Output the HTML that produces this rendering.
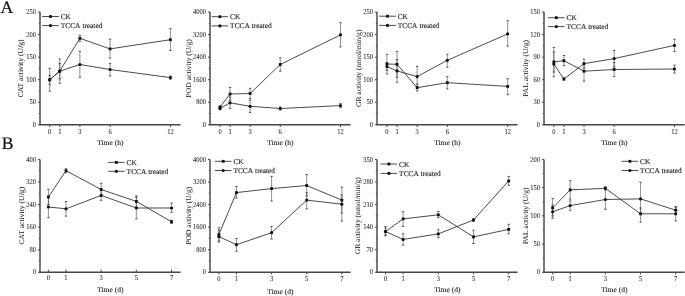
<!DOCTYPE html>
<html><head><meta charset="utf-8"><style>
html,body{margin:0;padding:0;background:#fff;}
body{width:685px;height:296px;overflow:hidden;}
svg{display:block;text-rendering:geometricPrecision;filter:grayscale(1);}
text{stroke:#222;stroke-width:0.2px;}
.tk{stroke-width:0.06px;}
.lg text{stroke-width:0.14px;}
.yl{stroke-width:0.04px;}
.xl{stroke-width:0.12px;}
</style></head><body>
<svg width="685" height="296" viewBox="0 0 685 296"><rect width="685" height="296" fill="#fff"/><g font-family='"Liberation Serif", serif' fill="#111"><text x="0.60" y="12.60" font-size="17.6" text-anchor="start">A</text><text x="1.80" y="148.60" font-size="17.6" text-anchor="start">B</text></g><g font-family='"Liberation Serif", serif' fill="#1e1e1e"><path d="M40.0 12.05V124.8H180.6" fill="none" stroke="#474747" stroke-width="1.45"/><path d="M38.0 124.80H40.0M38.8 113.52H40.0M38.0 102.25H40.0M38.8 90.97H40.0M38.0 79.70H40.0M38.8 68.42H40.0M38.0 57.15H40.0M38.8 45.87H40.0M38.0 34.60H40.0M38.8 23.32H40.0M38.0 12.05H40.0M49.70 124.8V127.0M59.76 124.8V127.0M79.88 124.8V127.0M110.06 124.8V127.0M170.42 124.8V127.0" stroke="#474747" stroke-width="1"/><text x="36.00" y="126.90" font-size="7.5" text-anchor="end" textLength="3.25" lengthAdjust="spacingAndGlyphs" class="tk">0</text><text x="36.00" y="104.35" font-size="7.5" text-anchor="end" textLength="6.50" lengthAdjust="spacingAndGlyphs" class="tk">50</text><text x="36.00" y="81.80" font-size="7.5" text-anchor="end" textLength="9.75" lengthAdjust="spacingAndGlyphs" class="tk">100</text><text x="36.00" y="59.25" font-size="7.5" text-anchor="end" textLength="9.75" lengthAdjust="spacingAndGlyphs" class="tk">150</text><text x="36.00" y="36.70" font-size="7.5" text-anchor="end" textLength="9.75" lengthAdjust="spacingAndGlyphs" class="tk">200</text><text x="36.00" y="14.15" font-size="7.5" text-anchor="end" textLength="9.75" lengthAdjust="spacingAndGlyphs" class="tk">250</text><text x="49.70" y="134.00" font-size="7.5" text-anchor="middle" textLength="3.25" lengthAdjust="spacingAndGlyphs" class="tk">0</text><text x="59.76" y="134.00" font-size="7.5" text-anchor="middle" textLength="3.25" lengthAdjust="spacingAndGlyphs" class="tk">1</text><text x="79.88" y="134.00" font-size="7.5" text-anchor="middle" textLength="3.25" lengthAdjust="spacingAndGlyphs" class="tk">3</text><text x="110.06" y="134.00" font-size="7.5" text-anchor="middle" textLength="3.25" lengthAdjust="spacingAndGlyphs" class="tk">6</text><text x="170.42" y="134.00" font-size="7.5" text-anchor="middle" textLength="6.50" lengthAdjust="spacingAndGlyphs" class="tk">12</text><text x="110.30" y="144.90" font-size="7.3" text-anchor="middle" textLength="26.20" lengthAdjust="spacingAndGlyphs" class="xl">Time (h)</text><text transform="translate(23.40 68.33) rotate(-90)" x="0" y="0" font-size="7.3" text-anchor="middle" textLength="58.00" lengthAdjust="spacingAndGlyphs" class="yl">CAT activity (U/g)</text></g><path d="M49.70 68.40V91.20M59.76 59.00V83.30M79.88 35.20V41.30M110.06 39.20V58.10M170.42 28.60V50.50M49.70 75.30V84.70M59.76 63.60V78.90M79.88 51.30V77.30M110.06 63.60V75.90M170.42 76.00V79.20" stroke="#4a4a4a" stroke-width="0.6" fill="none"/><path d="M48.50 68.40H50.90M48.50 91.20H50.90M58.56 59.00H60.96M58.56 83.30H60.96M78.68 35.20H81.08M78.68 41.30H81.08M108.86 39.20H111.26M108.86 58.10H111.26M169.22 28.60H171.62M169.22 50.50H171.62M48.50 75.30H50.90M48.50 84.70H50.90M58.56 63.60H60.96M58.56 78.90H60.96M78.68 51.30H81.08M78.68 77.30H81.08M108.86 63.60H111.26M108.86 75.90H111.26M169.22 76.00H171.62M169.22 79.20H171.62" stroke="#333" stroke-width="0.8" fill="none"/><polyline points="49.70,79.80 59.76,71.10 79.88,38.30 110.06,48.90 170.42,39.70" fill="none" stroke="#383838" stroke-width="0.9"/><polyline points="49.70,79.80 59.76,71.10 79.88,64.50 110.06,69.50 170.42,77.60" fill="none" stroke="#383838" stroke-width="0.9"/><g fill="#111"><rect x="48.30" y="78.40" width="2.8" height="2.8"/><rect x="58.36" y="69.70" width="2.8" height="2.8"/><rect x="78.48" y="36.90" width="2.8" height="2.8"/><rect x="108.66" y="47.50" width="2.8" height="2.8"/><rect x="169.02" y="38.30" width="2.8" height="2.8"/><circle cx="49.70" cy="79.80" r="1.6"/><circle cx="59.76" cy="71.10" r="1.6"/><circle cx="79.88" cy="64.50" r="1.6"/><circle cx="110.06" cy="69.50" r="1.6"/><circle cx="170.42" cy="77.60" r="1.6"/></g><path d="M42.20 16.50H58.80" stroke="#383838" stroke-width="0.9"/><rect x="49.10" y="15.10" width="2.8" height="2.8" fill="#111"/><g font-family='"Liberation Serif", serif' fill="#1e1e1e" class="lg"><text x="60.70" y="19.00" font-size="7.3" text-anchor="start" textLength="10.20" lengthAdjust="spacingAndGlyphs">CK</text></g><path d="M42.20 25.60H58.80" stroke="#383838" stroke-width="0.9"/><circle cx="50.50" cy="25.60" r="1.6" fill="#111"/><g font-family='"Liberation Serif", serif' fill="#1e1e1e" class="lg"><text x="60.70" y="28.10" font-size="7.3" text-anchor="start" textLength="19.80" lengthAdjust="spacingAndGlyphs">TCCA</text><text x="82.40" y="28.10" font-size="7.3" text-anchor="start" textLength="19.90" lengthAdjust="spacingAndGlyphs">treated</text></g><g font-family='"Liberation Serif", serif' fill="#1e1e1e"><path d="M210.0 12.05V124.8H350.6" fill="none" stroke="#474747" stroke-width="1.45"/><path d="M208.0 124.80H210.0M208.8 113.52H210.0M208.0 102.25H210.0M208.8 90.97H210.0M208.0 79.70H210.0M208.8 68.42H210.0M208.0 57.15H210.0M208.8 45.87H210.0M208.0 34.60H210.0M208.8 23.32H210.0M208.0 12.05H210.0M220.00 124.8V127.0M230.04 124.8V127.0M250.12 124.8V127.0M280.24 124.8V127.0M340.48 124.8V127.0" stroke="#474747" stroke-width="1"/><text x="206.00" y="126.90" font-size="7.5" text-anchor="end" textLength="3.25" lengthAdjust="spacingAndGlyphs" class="tk">0</text><text x="206.00" y="104.35" font-size="7.5" text-anchor="end" textLength="9.75" lengthAdjust="spacingAndGlyphs" class="tk">800</text><text x="206.00" y="81.80" font-size="7.5" text-anchor="end" textLength="13.00" lengthAdjust="spacingAndGlyphs" class="tk">1600</text><text x="206.00" y="59.25" font-size="7.5" text-anchor="end" textLength="13.00" lengthAdjust="spacingAndGlyphs" class="tk">2400</text><text x="206.00" y="36.70" font-size="7.5" text-anchor="end" textLength="13.00" lengthAdjust="spacingAndGlyphs" class="tk">3200</text><text x="206.00" y="14.15" font-size="7.5" text-anchor="end" textLength="13.00" lengthAdjust="spacingAndGlyphs" class="tk">4000</text><text x="220.00" y="134.00" font-size="7.5" text-anchor="middle" textLength="3.25" lengthAdjust="spacingAndGlyphs" class="tk">0</text><text x="230.04" y="134.00" font-size="7.5" text-anchor="middle" textLength="3.25" lengthAdjust="spacingAndGlyphs" class="tk">1</text><text x="250.12" y="134.00" font-size="7.5" text-anchor="middle" textLength="3.25" lengthAdjust="spacingAndGlyphs" class="tk">3</text><text x="280.24" y="134.00" font-size="7.5" text-anchor="middle" textLength="3.25" lengthAdjust="spacingAndGlyphs" class="tk">6</text><text x="340.48" y="134.00" font-size="7.5" text-anchor="middle" textLength="6.50" lengthAdjust="spacingAndGlyphs" class="tk">12</text><text x="280.30" y="144.90" font-size="7.3" text-anchor="middle" textLength="26.20" lengthAdjust="spacingAndGlyphs" class="xl">Time (h)</text><text transform="translate(191.10 68.33) rotate(-90)" x="0" y="0" font-size="7.3" text-anchor="middle" textLength="58.20" lengthAdjust="spacingAndGlyphs" class="yl">POD activity (U/g)</text></g><path d="M220.00 105.80V108.40M230.04 87.50V100.40M250.12 88.30V98.70M280.24 57.80V71.20M340.48 22.70V46.80M220.00 107.00V109.80M230.04 97.00V108.40M250.12 100.20V112.40M280.24 107.00V110.00M340.48 103.60V107.60" stroke="#4a4a4a" stroke-width="0.6" fill="none"/><path d="M218.80 105.80H221.20M218.80 108.40H221.20M228.84 87.50H231.24M228.84 100.40H231.24M248.92 88.30H251.32M248.92 98.70H251.32M279.04 57.80H281.44M279.04 71.20H281.44M339.28 22.70H341.68M339.28 46.80H341.68M218.80 107.00H221.20M218.80 109.80H221.20M228.84 97.00H231.24M228.84 108.40H231.24M248.92 100.20H251.32M248.92 112.40H251.32M279.04 107.00H281.44M279.04 110.00H281.44M339.28 103.60H341.68M339.28 107.60H341.68" stroke="#333" stroke-width="0.8" fill="none"/><polyline points="220.00,107.10 230.04,94.00 250.12,93.50 280.24,64.50 340.48,34.90" fill="none" stroke="#383838" stroke-width="0.9"/><polyline points="220.00,108.40 230.04,102.80 250.12,106.30 280.24,108.50 340.48,105.60" fill="none" stroke="#383838" stroke-width="0.9"/><g fill="#111"><rect x="218.60" y="105.70" width="2.8" height="2.8"/><rect x="228.64" y="92.60" width="2.8" height="2.8"/><rect x="248.72" y="92.10" width="2.8" height="2.8"/><rect x="278.84" y="63.10" width="2.8" height="2.8"/><rect x="339.08" y="33.50" width="2.8" height="2.8"/><circle cx="220.00" cy="108.40" r="1.6"/><circle cx="230.04" cy="102.80" r="1.6"/><circle cx="250.12" cy="106.30" r="1.6"/><circle cx="280.24" cy="108.50" r="1.6"/><circle cx="340.48" cy="105.60" r="1.6"/></g><path d="M211.60 16.70H228.20" stroke="#383838" stroke-width="0.9"/><rect x="218.50" y="15.30" width="2.8" height="2.8" fill="#111"/><g font-family='"Liberation Serif", serif' fill="#1e1e1e" class="lg"><text x="230.10" y="19.20" font-size="7.3" text-anchor="start" textLength="10.20" lengthAdjust="spacingAndGlyphs">CK</text></g><path d="M211.60 25.90H228.20" stroke="#383838" stroke-width="0.9"/><circle cx="219.90" cy="25.90" r="1.6" fill="#111"/><g font-family='"Liberation Serif", serif' fill="#1e1e1e" class="lg"><text x="230.10" y="28.40" font-size="7.3" text-anchor="start" textLength="19.80" lengthAdjust="spacingAndGlyphs">TCCA</text><text x="251.80" y="28.40" font-size="7.3" text-anchor="start" textLength="19.90" lengthAdjust="spacingAndGlyphs">treated</text></g><g font-family='"Liberation Serif", serif' fill="#1e1e1e"><path d="M377.0 12.05V124.8H517.6" fill="none" stroke="#474747" stroke-width="1.45"/><path d="M375.0 124.80H377.0M375.8 113.52H377.0M375.0 102.25H377.0M375.8 90.97H377.0M375.0 79.70H377.0M375.8 68.42H377.0M375.0 57.15H377.0M375.8 45.87H377.0M375.0 34.60H377.0M375.8 23.32H377.0M375.0 12.05H377.0M386.95 124.8V127.0M397.01 124.8V127.0M417.13 124.8V127.0M447.31 124.8V127.0M507.67 124.8V127.0" stroke="#474747" stroke-width="1"/><text x="373.00" y="126.90" font-size="7.5" text-anchor="end" textLength="3.25" lengthAdjust="spacingAndGlyphs" class="tk">0</text><text x="373.00" y="104.35" font-size="7.5" text-anchor="end" textLength="6.50" lengthAdjust="spacingAndGlyphs" class="tk">50</text><text x="373.00" y="81.80" font-size="7.5" text-anchor="end" textLength="9.75" lengthAdjust="spacingAndGlyphs" class="tk">100</text><text x="373.00" y="59.25" font-size="7.5" text-anchor="end" textLength="9.75" lengthAdjust="spacingAndGlyphs" class="tk">150</text><text x="373.00" y="36.70" font-size="7.5" text-anchor="end" textLength="9.75" lengthAdjust="spacingAndGlyphs" class="tk">200</text><text x="373.00" y="14.15" font-size="7.5" text-anchor="end" textLength="9.75" lengthAdjust="spacingAndGlyphs" class="tk">250</text><text x="386.95" y="134.00" font-size="7.5" text-anchor="middle" textLength="3.25" lengthAdjust="spacingAndGlyphs" class="tk">0</text><text x="397.01" y="134.00" font-size="7.5" text-anchor="middle" textLength="3.25" lengthAdjust="spacingAndGlyphs" class="tk">1</text><text x="417.13" y="134.00" font-size="7.5" text-anchor="middle" textLength="3.25" lengthAdjust="spacingAndGlyphs" class="tk">3</text><text x="447.31" y="134.00" font-size="7.5" text-anchor="middle" textLength="3.25" lengthAdjust="spacingAndGlyphs" class="tk">6</text><text x="507.67" y="134.00" font-size="7.5" text-anchor="middle" textLength="6.50" lengthAdjust="spacingAndGlyphs" class="tk">12</text><text x="447.30" y="144.90" font-size="7.3" text-anchor="middle" textLength="26.20" lengthAdjust="spacingAndGlyphs" class="xl">Time (h)</text><text transform="translate(360.50 68.33) rotate(-90)" x="0" y="0" font-size="7.3" text-anchor="middle" textLength="77.50" lengthAdjust="spacingAndGlyphs" class="yl">GR activity (nmol/min/g)</text></g><path d="M386.95 54.30V73.90M397.01 51.40V77.20M417.13 84.00V91.00M447.31 76.40V89.00M507.67 78.70V94.70M386.95 62.70V70.30M397.01 59.60V82.20M417.13 66.40V86.80M447.31 54.30V67.20M507.67 20.70V46.00" stroke="#4a4a4a" stroke-width="0.6" fill="none"/><path d="M385.75 54.30H388.15M385.75 73.90H388.15M395.81 51.40H398.21M395.81 77.20H398.21M415.93 84.00H418.33M415.93 91.00H418.33M446.11 76.40H448.51M446.11 89.00H448.51M506.47 78.70H508.87M506.47 94.70H508.87M385.75 62.70H388.15M385.75 70.30H388.15M395.81 59.60H398.21M395.81 82.20H398.21M415.93 66.40H418.33M415.93 86.80H418.33M446.11 54.30H448.51M446.11 67.20H448.51M506.47 20.70H508.87M506.47 46.00H508.87" stroke="#333" stroke-width="0.8" fill="none"/><polyline points="386.95,64.00 397.01,64.30 417.13,87.70 447.31,82.70 507.67,86.40" fill="none" stroke="#383838" stroke-width="0.9"/><polyline points="386.95,66.50 397.01,70.90 417.13,76.60 447.31,60.30 507.67,33.90" fill="none" stroke="#383838" stroke-width="0.9"/><g fill="#111"><rect x="385.55" y="62.60" width="2.8" height="2.8"/><rect x="395.61" y="62.90" width="2.8" height="2.8"/><rect x="415.73" y="86.30" width="2.8" height="2.8"/><rect x="445.91" y="81.30" width="2.8" height="2.8"/><rect x="506.27" y="85.00" width="2.8" height="2.8"/><circle cx="386.95" cy="66.50" r="1.6"/><circle cx="397.01" cy="70.90" r="1.6"/><circle cx="417.13" cy="76.60" r="1.6"/><circle cx="447.31" cy="60.30" r="1.6"/><circle cx="507.67" cy="33.90" r="1.6"/></g><path d="M379.20 16.20H395.80" stroke="#383838" stroke-width="0.9"/><rect x="386.10" y="14.80" width="2.8" height="2.8" fill="#111"/><g font-family='"Liberation Serif", serif' fill="#1e1e1e" class="lg"><text x="397.70" y="18.70" font-size="7.3" text-anchor="start" textLength="10.20" lengthAdjust="spacingAndGlyphs">CK</text></g><path d="M379.20 25.40H395.80" stroke="#383838" stroke-width="0.9"/><circle cx="387.50" cy="25.40" r="1.6" fill="#111"/><g font-family='"Liberation Serif", serif' fill="#1e1e1e" class="lg"><text x="397.70" y="27.90" font-size="7.3" text-anchor="start" textLength="19.80" lengthAdjust="spacingAndGlyphs">TCCA</text><text x="419.40" y="27.90" font-size="7.3" text-anchor="start" textLength="19.90" lengthAdjust="spacingAndGlyphs">treated</text></g><g font-family='"Liberation Serif", serif' fill="#1e1e1e"><path d="M544.0 12.05V124.8H684.6" fill="none" stroke="#474747" stroke-width="1.45"/><path d="M542.0 124.80H544.0M542.8 113.52H544.0M542.0 102.25H544.0M542.8 90.97H544.0M542.0 79.70H544.0M542.8 68.42H544.0M542.0 57.15H544.0M542.8 45.87H544.0M542.0 34.60H544.0M542.8 23.32H544.0M542.0 12.05H544.0M553.85 124.8V127.0M563.90 124.8V127.0M584.00 124.8V127.0M614.15 124.8V127.0M674.45 124.8V127.0" stroke="#474747" stroke-width="1"/><text x="540.00" y="126.90" font-size="7.5" text-anchor="end" textLength="3.25" lengthAdjust="spacingAndGlyphs" class="tk">0</text><text x="540.00" y="104.35" font-size="7.5" text-anchor="end" textLength="6.50" lengthAdjust="spacingAndGlyphs" class="tk">30</text><text x="540.00" y="81.80" font-size="7.5" text-anchor="end" textLength="6.50" lengthAdjust="spacingAndGlyphs" class="tk">60</text><text x="540.00" y="59.25" font-size="7.5" text-anchor="end" textLength="6.50" lengthAdjust="spacingAndGlyphs" class="tk">90</text><text x="540.00" y="36.70" font-size="7.5" text-anchor="end" textLength="9.75" lengthAdjust="spacingAndGlyphs" class="tk">120</text><text x="540.00" y="14.15" font-size="7.5" text-anchor="end" textLength="9.75" lengthAdjust="spacingAndGlyphs" class="tk">150</text><text x="553.85" y="134.00" font-size="7.5" text-anchor="middle" textLength="3.25" lengthAdjust="spacingAndGlyphs" class="tk">0</text><text x="563.90" y="134.00" font-size="7.5" text-anchor="middle" textLength="3.25" lengthAdjust="spacingAndGlyphs" class="tk">1</text><text x="584.00" y="134.00" font-size="7.5" text-anchor="middle" textLength="3.25" lengthAdjust="spacingAndGlyphs" class="tk">3</text><text x="614.15" y="134.00" font-size="7.5" text-anchor="middle" textLength="3.25" lengthAdjust="spacingAndGlyphs" class="tk">6</text><text x="674.45" y="134.00" font-size="7.5" text-anchor="middle" textLength="6.50" lengthAdjust="spacingAndGlyphs" class="tk">12</text><text x="614.30" y="144.90" font-size="7.3" text-anchor="middle" textLength="26.20" lengthAdjust="spacingAndGlyphs" class="xl">Time (h)</text><text transform="translate(528.10 68.33) rotate(-90)" x="0" y="0" font-size="7.3" text-anchor="middle" textLength="56.70" lengthAdjust="spacingAndGlyphs" class="yl">PAL activity (U/g)</text></g><path d="M553.85 47.40V76.70M563.90 55.50V65.70M584.00 63.00V81.20M614.15 62.50V76.60M674.45 65.20V73.00M553.85 52.00V72.00M563.90 77.80V80.20M584.00 59.10V68.00M614.15 50.40V67.00M674.45 39.20V51.50" stroke="#4a4a4a" stroke-width="0.6" fill="none"/><path d="M552.65 47.40H555.05M552.65 76.70H555.05M562.70 55.50H565.10M562.70 65.70H565.10M582.80 63.00H585.20M582.80 81.20H585.20M612.95 62.50H615.35M612.95 76.60H615.35M673.25 65.20H675.65M673.25 73.00H675.65M552.65 52.00H555.05M552.65 72.00H555.05M562.70 77.80H565.10M562.70 80.20H565.10M582.80 59.10H585.20M582.80 68.00H585.20M612.95 50.40H615.35M612.95 67.00H615.35M673.25 39.20H675.65M673.25 51.50H675.65" stroke="#333" stroke-width="0.8" fill="none"/><polyline points="553.85,61.90 563.90,60.70 584.00,71.20 614.15,69.50 674.45,69.00" fill="none" stroke="#383838" stroke-width="0.9"/><polyline points="553.85,64.10 563.90,79.00 584.00,63.70 614.15,58.60 674.45,45.40" fill="none" stroke="#383838" stroke-width="0.9"/><g fill="#111"><rect x="552.45" y="60.50" width="2.8" height="2.8"/><rect x="562.50" y="59.30" width="2.8" height="2.8"/><rect x="582.60" y="69.80" width="2.8" height="2.8"/><rect x="612.75" y="68.10" width="2.8" height="2.8"/><rect x="673.05" y="67.60" width="2.8" height="2.8"/><circle cx="553.85" cy="64.10" r="1.6"/><circle cx="563.90" cy="79.00" r="1.6"/><circle cx="584.00" cy="63.70" r="1.6"/><circle cx="614.15" cy="58.60" r="1.6"/><circle cx="674.45" cy="45.40" r="1.6"/></g><path d="M548.00 17.70H564.60" stroke="#383838" stroke-width="0.9"/><rect x="554.90" y="16.30" width="2.8" height="2.8" fill="#111"/><g font-family='"Liberation Serif", serif' fill="#1e1e1e" class="lg"><text x="566.50" y="20.20" font-size="7.3" text-anchor="start" textLength="10.20" lengthAdjust="spacingAndGlyphs">CK</text></g><path d="M548.00 26.60H564.60" stroke="#383838" stroke-width="0.9"/><circle cx="556.30" cy="26.60" r="1.6" fill="#111"/><g font-family='"Liberation Serif", serif' fill="#1e1e1e" class="lg"><text x="566.50" y="29.10" font-size="7.3" text-anchor="start" textLength="19.80" lengthAdjust="spacingAndGlyphs">TCCA</text><text x="588.20" y="29.10" font-size="7.3" text-anchor="start" textLength="19.90" lengthAdjust="spacingAndGlyphs">treated</text></g><g font-family='"Liberation Serif", serif' fill="#1e1e1e"><path d="M40.0 159.4V272.25H180.6" fill="none" stroke="#474747" stroke-width="1.45"/><path d="M38.0 272.25H40.0M38.8 260.96H40.0M38.0 249.68H40.0M38.8 238.40H40.0M38.0 227.11H40.0M38.8 215.83H40.0M38.0 204.54H40.0M38.8 193.25H40.0M38.0 181.97H40.0M38.8 170.69H40.0M38.0 159.40H40.0M48.40 272.25V269.65M65.99 272.25V269.65M101.17 272.25V269.65M136.35 272.25V269.65M171.53 272.25V269.65" stroke="#474747" stroke-width="1"/><text x="36.00" y="274.35" font-size="7.5" text-anchor="end" textLength="3.25" lengthAdjust="spacingAndGlyphs" class="tk">0</text><text x="36.00" y="251.78" font-size="7.5" text-anchor="end" textLength="6.50" lengthAdjust="spacingAndGlyphs" class="tk">80</text><text x="36.00" y="229.21" font-size="7.5" text-anchor="end" textLength="9.75" lengthAdjust="spacingAndGlyphs" class="tk">160</text><text x="36.00" y="206.64" font-size="7.5" text-anchor="end" textLength="9.75" lengthAdjust="spacingAndGlyphs" class="tk">240</text><text x="36.00" y="184.07" font-size="7.5" text-anchor="end" textLength="9.75" lengthAdjust="spacingAndGlyphs" class="tk">320</text><text x="36.00" y="161.50" font-size="7.5" text-anchor="end" textLength="9.75" lengthAdjust="spacingAndGlyphs" class="tk">400</text><text x="48.40" y="279.95" font-size="7.5" text-anchor="middle" textLength="3.25" lengthAdjust="spacingAndGlyphs" class="tk">0</text><text x="65.99" y="279.95" font-size="7.5" text-anchor="middle" textLength="3.25" lengthAdjust="spacingAndGlyphs" class="tk">1</text><text x="101.17" y="279.95" font-size="7.5" text-anchor="middle" textLength="3.25" lengthAdjust="spacingAndGlyphs" class="tk">3</text><text x="136.35" y="279.95" font-size="7.5" text-anchor="middle" textLength="3.25" lengthAdjust="spacingAndGlyphs" class="tk">5</text><text x="171.53" y="279.95" font-size="7.5" text-anchor="middle" textLength="3.25" lengthAdjust="spacingAndGlyphs" class="tk">7</text><text x="110.30" y="292.35" font-size="7.3" text-anchor="middle" textLength="26.20" lengthAdjust="spacingAndGlyphs" class="xl">Time (d)</text><text transform="translate(23.80 215.72) rotate(-90)" x="0" y="0" font-size="7.3" text-anchor="middle" textLength="57.80" lengthAdjust="spacingAndGlyphs" class="yl">CAT activity (U/g)</text></g><path d="M48.40 189.30V204.50M65.99 168.70V172.70M101.17 183.30V195.50M136.35 195.90V207.00M171.53 220.30V223.30M48.40 196.50V217.70M65.99 201.50V216.10M101.17 190.40V200.30M136.35 197.00V218.90M171.53 203.10V212.30" stroke="#4a4a4a" stroke-width="0.6" fill="none"/><path d="M47.20 189.30H49.60M47.20 204.50H49.60M64.79 168.70H67.19M64.79 172.70H67.19M99.97 183.30H102.37M99.97 195.50H102.37M135.15 195.90H137.55M135.15 207.00H137.55M170.33 220.30H172.73M170.33 223.30H172.73M47.20 196.50H49.60M47.20 217.70H49.60M64.79 201.50H67.19M64.79 216.10H67.19M99.97 190.40H102.37M99.97 200.30H102.37M135.15 197.00H137.55M135.15 218.90H137.55M170.33 203.10H172.73M170.33 212.30H172.73" stroke="#333" stroke-width="0.8" fill="none"/><polyline points="48.40,197.00 65.99,170.70 101.17,189.50 136.35,201.40 171.53,221.80" fill="none" stroke="#383838" stroke-width="0.9"/><polyline points="48.40,207.00 65.99,208.80 101.17,195.40 136.35,208.00 171.53,208.00" fill="none" stroke="#383838" stroke-width="0.9"/><g fill="#111"><rect x="47.00" y="195.60" width="2.8" height="2.8"/><rect x="64.59" y="169.30" width="2.8" height="2.8"/><rect x="99.77" y="188.10" width="2.8" height="2.8"/><rect x="134.95" y="200.00" width="2.8" height="2.8"/><rect x="170.13" y="220.40" width="2.8" height="2.8"/><circle cx="48.40" cy="207.00" r="1.6"/><circle cx="65.99" cy="208.80" r="1.6"/><circle cx="101.17" cy="195.40" r="1.6"/><circle cx="136.35" cy="208.00" r="1.6"/><circle cx="171.53" cy="208.00" r="1.6"/></g><path d="M108.10 162.40H124.70" stroke="#383838" stroke-width="0.9"/><rect x="115.00" y="161.00" width="2.8" height="2.8" fill="#111"/><g font-family='"Liberation Serif", serif' fill="#1e1e1e" class="lg"><text x="126.60" y="164.90" font-size="7.3" text-anchor="start" textLength="10.20" lengthAdjust="spacingAndGlyphs">CK</text></g><path d="M108.10 171.30H124.70" stroke="#383838" stroke-width="0.9"/><circle cx="116.40" cy="171.30" r="1.6" fill="#111"/><g font-family='"Liberation Serif", serif' fill="#1e1e1e" class="lg"><text x="126.60" y="173.80" font-size="7.3" text-anchor="start" textLength="19.80" lengthAdjust="spacingAndGlyphs">TCCA</text><text x="148.30" y="173.80" font-size="7.3" text-anchor="start" textLength="19.90" lengthAdjust="spacingAndGlyphs">treated</text></g><g font-family='"Liberation Serif", serif' fill="#1e1e1e"><path d="M210.0 159.4V272.25H350.6" fill="none" stroke="#474747" stroke-width="1.45"/><path d="M208.0 272.25H210.0M208.8 260.96H210.0M208.0 249.68H210.0M208.8 238.40H210.0M208.0 227.11H210.0M208.8 215.83H210.0M208.0 204.54H210.0M208.8 193.25H210.0M208.0 181.97H210.0M208.8 170.69H210.0M208.0 159.40H210.0M218.90 272.25V274.45M236.46 272.25V274.45M271.58 272.25V274.45M306.70 272.25V274.45M341.82 272.25V274.45" stroke="#474747" stroke-width="1"/><text x="206.00" y="274.35" font-size="7.5" text-anchor="end" textLength="3.25" lengthAdjust="spacingAndGlyphs" class="tk">0</text><text x="206.00" y="251.78" font-size="7.5" text-anchor="end" textLength="9.75" lengthAdjust="spacingAndGlyphs" class="tk">800</text><text x="206.00" y="229.21" font-size="7.5" text-anchor="end" textLength="13.00" lengthAdjust="spacingAndGlyphs" class="tk">1600</text><text x="206.00" y="206.64" font-size="7.5" text-anchor="end" textLength="13.00" lengthAdjust="spacingAndGlyphs" class="tk">2400</text><text x="206.00" y="184.07" font-size="7.5" text-anchor="end" textLength="13.00" lengthAdjust="spacingAndGlyphs" class="tk">3200</text><text x="206.00" y="161.50" font-size="7.5" text-anchor="end" textLength="13.00" lengthAdjust="spacingAndGlyphs" class="tk">4000</text><text x="218.90" y="281.45" font-size="7.5" text-anchor="middle" textLength="3.25" lengthAdjust="spacingAndGlyphs" class="tk">0</text><text x="236.46" y="281.45" font-size="7.5" text-anchor="middle" textLength="3.25" lengthAdjust="spacingAndGlyphs" class="tk">1</text><text x="271.58" y="281.45" font-size="7.5" text-anchor="middle" textLength="3.25" lengthAdjust="spacingAndGlyphs" class="tk">3</text><text x="306.70" y="281.45" font-size="7.5" text-anchor="middle" textLength="3.25" lengthAdjust="spacingAndGlyphs" class="tk">5</text><text x="341.82" y="281.45" font-size="7.5" text-anchor="middle" textLength="3.25" lengthAdjust="spacingAndGlyphs" class="tk">7</text><text x="280.30" y="293.95" font-size="7.3" text-anchor="middle" textLength="26.20" lengthAdjust="spacingAndGlyphs" class="xl">Time (d)</text><text transform="translate(190.70 215.72) rotate(-90)" x="0" y="0" font-size="7.3" text-anchor="middle" textLength="57.80" lengthAdjust="spacingAndGlyphs" class="yl">POD activity (U/g)</text></g><path d="M218.90 227.70V241.00M236.46 186.60V198.00M271.58 176.40V201.00M306.70 174.50V196.00M341.82 187.20V213.00M218.90 230.00V242.00M236.46 238.50V251.20M271.58 226.40V239.00M306.70 192.80V208.80M341.82 195.00V221.20" stroke="#4a4a4a" stroke-width="0.6" fill="none"/><path d="M217.70 227.70H220.10M217.70 241.00H220.10M235.26 186.60H237.66M235.26 198.00H237.66M270.38 176.40H272.78M270.38 201.00H272.78M305.50 174.50H307.90M305.50 196.00H307.90M340.62 187.20H343.02M340.62 213.00H343.02M217.70 230.00H220.10M217.70 242.00H220.10M235.26 238.50H237.66M235.26 251.20H237.66M270.38 226.40H272.78M270.38 239.00H272.78M305.50 192.80H307.90M305.50 208.80H307.90M340.62 195.00H343.02M340.62 221.20H343.02" stroke="#333" stroke-width="0.8" fill="none"/><polyline points="218.90,234.50 236.46,192.60 271.58,188.60 306.70,185.50 341.82,200.10" fill="none" stroke="#383838" stroke-width="0.9"/><polyline points="218.90,236.60 236.46,244.70 271.58,232.70 306.70,200.10 341.82,204.20" fill="none" stroke="#383838" stroke-width="0.9"/><g fill="#111"><rect x="217.50" y="233.10" width="2.8" height="2.8"/><rect x="235.06" y="191.20" width="2.8" height="2.8"/><rect x="270.18" y="187.20" width="2.8" height="2.8"/><rect x="305.30" y="184.10" width="2.8" height="2.8"/><rect x="340.42" y="198.70" width="2.8" height="2.8"/><circle cx="218.90" cy="236.60" r="1.6"/><circle cx="236.46" cy="244.70" r="1.6"/><circle cx="271.58" cy="232.70" r="1.6"/><circle cx="306.70" cy="200.10" r="1.6"/><circle cx="341.82" cy="204.20" r="1.6"/></g><path d="M214.90 161.30H231.50" stroke="#383838" stroke-width="0.9"/><rect x="221.80" y="159.90" width="2.8" height="2.8" fill="#111"/><g font-family='"Liberation Serif", serif' fill="#1e1e1e" class="lg"><text x="233.40" y="163.80" font-size="7.3" text-anchor="start" textLength="10.20" lengthAdjust="spacingAndGlyphs">CK</text></g><path d="M214.90 170.50H231.50" stroke="#383838" stroke-width="0.9"/><circle cx="223.20" cy="170.50" r="1.6" fill="#111"/><g font-family='"Liberation Serif", serif' fill="#1e1e1e" class="lg"><text x="233.40" y="173.00" font-size="7.3" text-anchor="start" textLength="19.80" lengthAdjust="spacingAndGlyphs">TCCA</text><text x="255.10" y="173.00" font-size="7.3" text-anchor="start" textLength="19.90" lengthAdjust="spacingAndGlyphs">treated</text></g><g font-family='"Liberation Serif", serif' fill="#1e1e1e"><path d="M377.0 159.4V272.25H517.6" fill="none" stroke="#474747" stroke-width="1.45"/><path d="M375.0 272.25H377.0M375.8 260.96H377.0M375.0 249.68H377.0M375.8 238.40H377.0M375.0 227.11H377.0M375.8 215.83H377.0M375.0 204.54H377.0M375.8 193.25H377.0M375.0 181.97H377.0M375.8 170.69H377.0M375.0 159.40H377.0M385.50 272.25V274.45M403.10 272.25V274.45M438.30 272.25V274.45M473.50 272.25V274.45M508.70 272.25V274.45" stroke="#474747" stroke-width="1"/><text x="373.00" y="274.35" font-size="7.5" text-anchor="end" textLength="3.25" lengthAdjust="spacingAndGlyphs" class="tk">0</text><text x="373.00" y="251.78" font-size="7.5" text-anchor="end" textLength="6.50" lengthAdjust="spacingAndGlyphs" class="tk">70</text><text x="373.00" y="229.21" font-size="7.5" text-anchor="end" textLength="9.75" lengthAdjust="spacingAndGlyphs" class="tk">140</text><text x="373.00" y="206.64" font-size="7.5" text-anchor="end" textLength="9.75" lengthAdjust="spacingAndGlyphs" class="tk">210</text><text x="373.00" y="184.07" font-size="7.5" text-anchor="end" textLength="9.75" lengthAdjust="spacingAndGlyphs" class="tk">280</text><text x="373.00" y="161.50" font-size="7.5" text-anchor="end" textLength="9.75" lengthAdjust="spacingAndGlyphs" class="tk">350</text><text x="385.50" y="281.45" font-size="7.5" text-anchor="middle" textLength="3.25" lengthAdjust="spacingAndGlyphs" class="tk">0</text><text x="403.10" y="281.45" font-size="7.5" text-anchor="middle" textLength="3.25" lengthAdjust="spacingAndGlyphs" class="tk">1</text><text x="438.30" y="281.45" font-size="7.5" text-anchor="middle" textLength="3.25" lengthAdjust="spacingAndGlyphs" class="tk">3</text><text x="473.50" y="281.45" font-size="7.5" text-anchor="middle" textLength="3.25" lengthAdjust="spacingAndGlyphs" class="tk">5</text><text x="508.70" y="281.45" font-size="7.5" text-anchor="middle" textLength="3.25" lengthAdjust="spacingAndGlyphs" class="tk">7</text><text x="447.30" y="292.35" font-size="7.3" text-anchor="middle" textLength="26.20" lengthAdjust="spacingAndGlyphs" class="xl">Time (d)</text><text transform="translate(360.00 215.72) rotate(-90)" x="0" y="0" font-size="7.3" text-anchor="middle" textLength="77.20" lengthAdjust="spacingAndGlyphs" class="yl">GR activity (nmol/min/g)</text></g><path d="M385.50 226.40V235.80M403.10 211.70V226.40M438.30 211.50V217.60M473.50 230.30V243.50M508.70 224.30V233.80M385.50 228.00V235.00M403.10 233.80V245.10M438.30 229.70V237.70M473.50 218.60V221.40M508.70 176.40V185.30" stroke="#4a4a4a" stroke-width="0.6" fill="none"/><path d="M384.30 226.40H386.70M384.30 235.80H386.70M401.90 211.70H404.30M401.90 226.40H404.30M437.10 211.50H439.50M437.10 217.60H439.50M472.30 230.30H474.70M472.30 243.50H474.70M507.50 224.30H509.90M507.50 233.80H509.90M384.30 228.00H386.70M384.30 235.00H386.70M401.90 233.80H404.30M401.90 245.10H404.30M437.10 229.70H439.50M437.10 237.70H439.50M472.30 218.60H474.70M472.30 221.40H474.70M507.50 176.40H509.90M507.50 185.30H509.90" stroke="#333" stroke-width="0.8" fill="none"/><polyline points="385.50,231.60 403.10,218.90 438.30,214.80 473.50,236.90 508.70,229.40" fill="none" stroke="#383838" stroke-width="0.9"/><polyline points="385.50,231.60 403.10,239.40 438.30,233.90 473.50,220.00 508.70,180.90" fill="none" stroke="#383838" stroke-width="0.9"/><g fill="#111"><rect x="384.10" y="230.20" width="2.8" height="2.8"/><rect x="401.70" y="217.50" width="2.8" height="2.8"/><rect x="436.90" y="213.40" width="2.8" height="2.8"/><rect x="472.10" y="235.50" width="2.8" height="2.8"/><rect x="507.30" y="228.00" width="2.8" height="2.8"/><circle cx="385.50" cy="231.60" r="1.6"/><circle cx="403.10" cy="239.40" r="1.6"/><circle cx="438.30" cy="233.90" r="1.6"/><circle cx="473.50" cy="220.00" r="1.6"/><circle cx="508.70" cy="180.90" r="1.6"/></g><path d="M380.60 164.00H397.20" stroke="#383838" stroke-width="0.9"/><rect x="387.50" y="162.60" width="2.8" height="2.8" fill="#111"/><g font-family='"Liberation Serif", serif' fill="#1e1e1e" class="lg"><text x="399.10" y="166.50" font-size="7.3" text-anchor="start" textLength="10.20" lengthAdjust="spacingAndGlyphs">CK</text></g><path d="M380.60 173.40H397.20" stroke="#383838" stroke-width="0.9"/><circle cx="388.90" cy="173.40" r="1.6" fill="#111"/><g font-family='"Liberation Serif", serif' fill="#1e1e1e" class="lg"><text x="399.10" y="175.90" font-size="7.3" text-anchor="start" textLength="19.80" lengthAdjust="spacingAndGlyphs">TCCA</text><text x="420.80" y="175.90" font-size="7.3" text-anchor="start" textLength="19.90" lengthAdjust="spacingAndGlyphs">treated</text></g><g font-family='"Liberation Serif", serif' fill="#1e1e1e"><path d="M544.0 159.4V272.25H684.6" fill="none" stroke="#474747" stroke-width="1.45"/><path d="M542.0 272.25H544.0M542.8 258.14H544.0M542.0 244.04H544.0M542.8 229.93H544.0M542.0 215.82H544.0M542.8 201.72H544.0M542.0 187.61H544.0M542.8 173.51H544.0M542.0 159.40H544.0M552.60 272.25V274.45M570.19 272.25V274.45M605.37 272.25V274.45M640.55 272.25V274.45M675.73 272.25V274.45" stroke="#474747" stroke-width="1"/><text x="540.00" y="274.35" font-size="7.5" text-anchor="end" textLength="3.25" lengthAdjust="spacingAndGlyphs" class="tk">0</text><text x="540.00" y="246.14" font-size="7.5" text-anchor="end" textLength="6.50" lengthAdjust="spacingAndGlyphs" class="tk">50</text><text x="540.00" y="217.92" font-size="7.5" text-anchor="end" textLength="9.75" lengthAdjust="spacingAndGlyphs" class="tk">100</text><text x="540.00" y="189.71" font-size="7.5" text-anchor="end" textLength="9.75" lengthAdjust="spacingAndGlyphs" class="tk">150</text><text x="540.00" y="161.50" font-size="7.5" text-anchor="end" textLength="9.75" lengthAdjust="spacingAndGlyphs" class="tk">200</text><text x="552.60" y="281.45" font-size="7.5" text-anchor="middle" textLength="3.25" lengthAdjust="spacingAndGlyphs" class="tk">0</text><text x="570.19" y="281.45" font-size="7.5" text-anchor="middle" textLength="3.25" lengthAdjust="spacingAndGlyphs" class="tk">1</text><text x="605.37" y="281.45" font-size="7.5" text-anchor="middle" textLength="3.25" lengthAdjust="spacingAndGlyphs" class="tk">3</text><text x="640.55" y="281.45" font-size="7.5" text-anchor="middle" textLength="3.25" lengthAdjust="spacingAndGlyphs" class="tk">5</text><text x="675.73" y="281.45" font-size="7.5" text-anchor="middle" textLength="3.25" lengthAdjust="spacingAndGlyphs" class="tk">7</text><text x="614.30" y="292.35" font-size="7.3" text-anchor="middle" textLength="26.20" lengthAdjust="spacingAndGlyphs" class="xl">Time (d)</text><text transform="translate(528.00 215.72) rotate(-90)" x="0" y="0" font-size="7.3" text-anchor="middle" textLength="56.50" lengthAdjust="spacingAndGlyphs" class="yl">PAL activity (U/g)</text></g><path d="M552.60 198.60V216.00M570.19 180.60V199.10M605.37 186.80V189.80M640.55 208.00V222.10M675.73 207.00V220.90M552.60 205.00V218.30M570.19 200.90V210.30M605.37 189.70V209.30M640.55 182.30V213.00M675.73 206.70V213.70" stroke="#4a4a4a" stroke-width="0.6" fill="none"/><path d="M551.40 198.60H553.80M551.40 216.00H553.80M568.99 180.60H571.39M568.99 199.10H571.39M604.17 186.80H606.57M604.17 189.80H606.57M639.35 208.00H641.75M639.35 222.10H641.75M674.53 207.00H676.93M674.53 220.90H676.93M551.40 205.00H553.80M551.40 218.30H553.80M568.99 200.90H571.39M568.99 210.30H571.39M604.17 189.70H606.57M604.17 209.30H606.57M639.35 182.30H641.75M639.35 213.00H641.75M674.53 206.70H676.93M674.53 213.70H676.93" stroke="#333" stroke-width="0.8" fill="none"/><polyline points="552.60,207.90 570.19,189.90 605.37,188.30 640.55,213.80 675.73,213.80" fill="none" stroke="#383838" stroke-width="0.9"/><polyline points="552.60,211.80 570.19,205.60 605.37,199.50 640.55,198.90 675.73,210.20" fill="none" stroke="#383838" stroke-width="0.9"/><g fill="#111"><rect x="551.20" y="206.50" width="2.8" height="2.8"/><rect x="568.79" y="188.50" width="2.8" height="2.8"/><rect x="603.97" y="186.90" width="2.8" height="2.8"/><rect x="639.15" y="212.40" width="2.8" height="2.8"/><rect x="674.33" y="212.40" width="2.8" height="2.8"/><circle cx="552.60" cy="211.80" r="1.6"/><circle cx="570.19" cy="205.60" r="1.6"/><circle cx="605.37" cy="199.50" r="1.6"/><circle cx="640.55" cy="198.90" r="1.6"/><circle cx="675.73" cy="210.20" r="1.6"/></g><path d="M621.60 161.30H638.20" stroke="#383838" stroke-width="0.9"/><rect x="628.50" y="159.90" width="2.8" height="2.8" fill="#111"/><g font-family='"Liberation Serif", serif' fill="#1e1e1e" class="lg"><text x="640.10" y="163.80" font-size="7.3" text-anchor="start" textLength="10.20" lengthAdjust="spacingAndGlyphs">CK</text></g><path d="M621.60 170.50H638.20" stroke="#383838" stroke-width="0.9"/><circle cx="629.90" cy="170.50" r="1.6" fill="#111"/><g font-family='"Liberation Serif", serif' fill="#1e1e1e" class="lg"><text x="640.10" y="173.00" font-size="7.3" text-anchor="start" textLength="19.80" lengthAdjust="spacingAndGlyphs">TCCA</text><text x="661.80" y="173.00" font-size="7.3" text-anchor="start" textLength="19.90" lengthAdjust="spacingAndGlyphs">treated</text></g></svg>
</body></html>
